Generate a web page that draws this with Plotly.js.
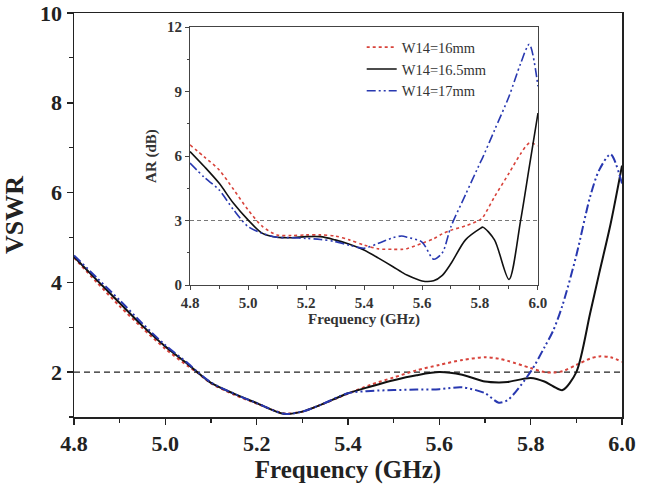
<!DOCTYPE html>
<html>
<head>
<meta charset="utf-8">
<script src="https://cdn.plot.ly/plotly-3.0.1.min.js"></script>
<style>html,body{margin:0;padding:0;background:#fff}#chart{width:652px;height:487px}</style>
</head>
<body>
<div id="chart"></div>
<script>
// Main plot: VSWR vs frequency
const freqMain = [4.8, 4.85, 4.9, 4.95, 5.0, 5.05, 5.07, 5.1, 5.15, 5.2, 5.26, 5.3, 5.34, 5.4, 5.45, 5.5, 5.55, 5.6, 5.65, 5.7, 5.73, 5.75, 5.8, 5.83, 5.85, 5.87, 5.9, 5.93, 5.95, 5.975, 6.0];
const vswr16 = [4.55, 4.0, 3.47, 2.98, 2.52, 2.13, 1.99, 1.75, 1.5, 1.3, 1.08, 1.12, 1.27, 1.52, 1.72, 1.88, 2.04, 2.16, 2.27, 2.33, 2.3, 2.25, 2.09, 2.0, 1.99, 2.02, 2.16, 2.3, 2.35, 2.33, 2.23];
const vswr165 = [4.57, 4.05, 3.54, 3.03, 2.57, 2.17, 2.0, 1.76, 1.52, 1.31, 1.07, 1.12, 1.27, 1.53, 1.68, 1.82, 1.93, 2.0, 1.94, 1.79, 1.77, 1.78, 1.87, 1.79, 1.68, 1.6, 2.0, 3.3, 4.2, 5.3, 6.6];
const vswr17 = [4.6, 4.1, 3.6, 3.08, 2.6, 2.19, 2.01, 1.77, 1.52, 1.31, 1.07, 1.12, 1.27, 1.53, 1.58, 1.6, 1.61, 1.62, 1.66, 1.53, 1.32, 1.38, 2.01, 2.55, 2.94, 3.5, 4.6, 5.9, 6.5, 6.85, 6.2];

// Inset: axial ratio vs frequency
const freqAR = [4.8, 4.85, 4.9, 4.95, 5.0, 5.05, 5.1, 5.15, 5.2, 5.25, 5.3, 5.35, 5.4, 5.45, 5.5, 5.53, 5.55, 5.6, 5.64, 5.67, 5.7, 5.75, 5.8, 5.81, 5.85, 5.9, 5.94, 5.97, 6.0];
const ar16 = [6.52, 5.95, 5.36, 4.45, 3.5, 2.72, 2.33, 2.3, 2.33, 2.33, 2.28, 2.1, 1.86, 1.68, 1.66, 1.66, 1.7, 1.94, 2.15, 2.38, 2.55, 2.75, 3.03, 3.15, 4.1, 5.2, 6.1, 6.6, 6.48];
const ar165 = [6.21, 5.5, 4.74, 3.8, 3.03, 2.4, 2.22, 2.2, 2.25, 2.25, 2.1, 1.9, 1.63, 1.25, 0.85, 0.6, 0.45, 0.19, 0.2, 0.45, 1.0, 2.1, 2.62, 2.69, 2.1, 0.26, 3.0, 5.5, 8.0];
const ar17 = [5.67, 5.0, 4.43, 3.5, 2.72, 2.4, 2.22, 2.2, 2.17, 2.12, 2.02, 1.85, 1.71, 1.94, 2.2, 2.28, 2.22, 2.0, 1.2, 1.5, 2.72, 4.2, 5.67, 5.95, 7.2, 8.77, 10.3, 11.2, 9.24];

const seriesNames = ['W14=16mm', 'W14=16.5mm', 'W14=17mm'];
const colors = ['#d8433b', '#111111', '#2838b0'];
const dashes = ['dot', 'solid', '9px,3px,2px,3px,2px,3px'];

const serif = 'Liberation Serif, Times New Roman, serif';
const axisColor = '#222';

const traces = [];
[vswr16, vswr165, vswr17].forEach((ys, i) => {
  traces.push({x: freqMain, y: ys, type: 'scatter', mode: 'lines', name: seriesNames[i],
    showlegend: false, xaxis: 'x', yaxis: 'y',
    line: {color: colors[i], width: 2, dash: dashes[i], shape: 'spline', smoothing: 0.8}});
});
[ar16, ar165, ar17].forEach((ys, i) => {
  traces.push({x: freqAR, y: ys, type: 'scatter', mode: 'lines', name: seriesNames[i],
    showlegend: true, xaxis: 'x2', yaxis: 'y2',
    line: {color: colors[i], width: 1.6, dash: dashes[i], shape: 'spline', smoothing: 0.8}});
});

const layout = {
  width: 652, height: 487,
  margin: {l: 74, r: 30, t: 13, b: 70},
  paper_bgcolor: '#fff', plot_bgcolor: 'rgba(0,0,0,0)',
  showlegend: true,
  legend: {x: 0.525, y: 0.955, xanchor: 'left', yanchor: 'top', bgcolor: 'rgba(0,0,0,0)',
    font: {family: serif, size: 14.5, color: '#333'}, tracegroupgap: 0, itemwidth: 30},
  xaxis: {domain: [0, 1], range: [4.8, 6.0], tickvals: [4.8, 5.0, 5.2, 5.4, 5.6, 5.8, 6.0],
    ticktext: ['4.8', '5.0', '5.2', '5.4', '5.6', '5.8', '6.0'],
    ticks: 'outside', ticklen: 6, tickwidth: 1.5, tickcolor: axisColor,
    minor: {dtick: 0.1, tick0: 4.8, ticks: 'outside', ticklen: 4, tickwidth: 1.2, tickcolor: axisColor},
    showline: true, linewidth: 1.5, linecolor: axisColor, mirror: true, showgrid: false, zeroline: false,
    tickfont: {family: serif, size: 22, color: '#222', weight: 'bold'},
    title: {text: '<b>Frequency (GHz)</b>', font: {family: serif, size: 25, color: '#222'}, standoff: 4}},
  yaxis: {domain: [0, 1], range: [1, 10], tickvals: [2, 4, 6, 8, 10],
    ticks: 'outside', ticklen: 6, tickwidth: 1.5, tickcolor: axisColor,
    minor: {tickvals: [1, 3, 5, 7, 9], ticks: 'outside', ticklen: 4, tickwidth: 1.2, tickcolor: axisColor},
    showline: true, linewidth: 1.5, linecolor: axisColor, mirror: true, showgrid: false, zeroline: false,
    tickfont: {family: serif, size: 22, color: '#222', weight: 'bold'},
    title: {text: '<b>VSWR</b>', font: {family: serif, size: 26, color: '#222'}, standoff: 10}},
  xaxis2: {domain: [0.2117, 0.8467], anchor: 'y2', range: [4.8, 6.0],
    tickvals: [4.8, 5.0, 5.2, 5.4, 5.6, 5.8, 6.0], ticktext: ['4.8', '5.0', '5.2', '5.4', '5.6', '5.8', '6.0'],
    ticks: 'outside', ticklen: 4, tickwidth: 1, tickcolor: '#444',
    minor: {dtick: 0.1, tick0: 4.8, ticks: 'outside', ticklen: 2.5, tickwidth: 1, tickcolor: '#444'},
    showline: true, linewidth: 1, linecolor: '#444', mirror: true, showgrid: false, zeroline: false,
    tickfont: {family: serif, size: 15, color: '#333', weight: 'bold'},
    title: {text: '<b>Frequency (GHz)</b>', font: {family: serif, size: 15, color: '#333'}, standoff: 1}},
  yaxis2: {domain: [0.3267, 0.9653], anchor: 'x2', range: [0, 12], tickvals: [0, 3, 6, 9, 12],
    ticks: 'outside', ticklen: 4, tickwidth: 1, tickcolor: '#444',
    minor: {tickvals: [1.5, 4.5, 7.5, 10.5], ticks: 'outside', ticklen: 2.5, tickwidth: 1, tickcolor: '#444'},
    showline: true, linewidth: 1, linecolor: '#444', mirror: true, showgrid: false, zeroline: false,
    tickfont: {family: serif, size: 15, color: '#333', weight: 'bold'},
    title: {text: '<b>AR (dB)</b>', font: {family: serif, size: 15, color: '#333'}, standoff: 6}},
  shapes: [
    {type: 'line', xref: 'x domain', yref: 'y', x0: 0, x1: 1, y0: 2, y1: 2,
      line: {color: '#222', width: 1.3, dash: '6px,4px'}, layer: 'below'},
    {type: 'line', xref: 'x2 domain', yref: 'y2', x0: 0, x1: 1, y0: 3, y1: 3,
      line: {color: '#777', width: 1.2, dash: '4px,3px'}, layer: 'below'}
  ]
};

Plotly.newPlot('chart', traces, layout, {staticPlot: true, displayModeBar: false});
</script>
</body>
</html>
